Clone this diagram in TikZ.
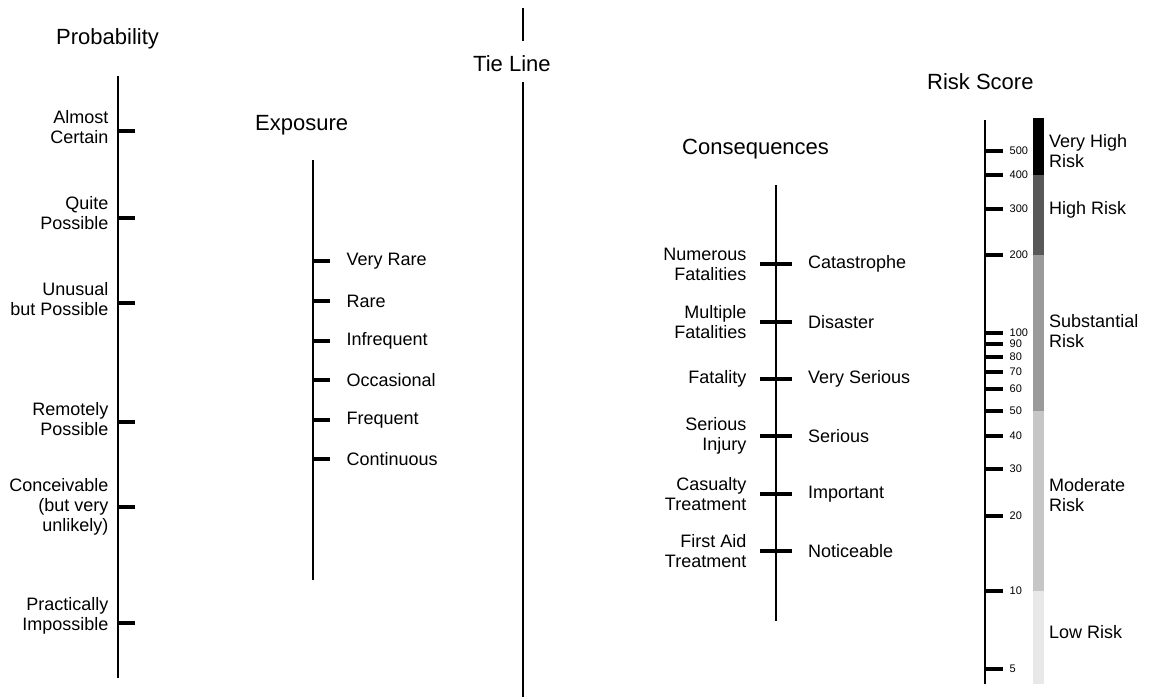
\documentclass[tikz,border=0pt]{standalone}
\usepackage{fontspec}
\setmainfont{Liberation Sans}
\definecolor{riskhigh}{HTML}{585858}
\definecolor{risksub}{HTML}{9A9A9A}
\definecolor{riskmod}{HTML}{C6C6C6}
\definecolor{risklow}{HTML}{E8E8E8}
\begin{document}
\begin{tikzpicture}[x=1pt,y=-1pt,
		axis/.style={line width=2.7pt},
		tick/.style={line width=3.3pt},
		head/.style={font=\fontsize{22}{26}\selectfont,inner sep=0pt,anchor=base west},
		lab/.style={font=\fontsize{18}{20}\selectfont,inner sep=0pt},
		num/.style={font=\fontsize{11}{12}\selectfont,inner sep=0pt,anchor=west,xshift=5pt}]
		\useasboundingbox (0,0) rectangle (1149,697);
		% probability
		\node[head] (prob) at (56,44) {Probability};
		\draw[axis] (118,76) -- (118,678);
		\draw[tick] (135,131) -- (118,131) node[lab,left=8pt,yshift=4pt,align=right] (almost) {Almost\\Certain};
		\draw[tick] (135,218) -- (118,218) node[lab,left=8pt,yshift=5pt,align=right] (quite) {Quite\\Possible};
		\draw[tick] (135,303) -- (118,303) node[lab,left=8pt,yshift=4pt,align=right] (unusual) {Unusual\\but Possible};
		\draw[tick] (135,422) -- (118,422) node[lab,left=8pt,yshift=3pt,align=right] (remotely) {Remotely\\Possible};
		\draw[tick] (135,507) -- (118,507) node[lab,left=8pt,align=right] (conceivable) {Conceivable\\(but very\\unlikely)};
		\draw[tick] (135,623) -- (118,623) node[lab,left=8pt,yshift=7pt,align=right] (practically) {Practically\\Impossible};
		% exposure
		\node[head] (expo) at (255,130) {Exposure};
		\draw[axis] (313,160) -- (313,580);
		\draw[tick] (313,261) -- (330,261) node[lab,right=15pt] (veryrare) {Very Rare};
		\draw[tick] (313,301) -- (330,301) node[lab,right=15pt] (rare) {Rare};
		\draw[tick] (313,341) -- (330,341) node[lab,right=15pt] (infrequent) {Infrequent};
		\draw[tick] (313,380) -- (330,380) node[lab,right=15pt] (occasional) {Occasional};
		\draw[tick] (313,420) -- (330,420) node[lab,right=15pt] (frequent) {Frequent};
		\draw[tick] (313,459) -- (330,459) node[lab,right=15pt] (continuous) {Continuous};
		% tie line
		\node[head] (tie) at (473,71) {Tie Line};
		\draw[axis] (523,8) -- (523,41);
		\draw[axis] (523,82) -- (523,697);
		% consequences
		\node[head] (cons) at (682,154) {Consequences};
		\draw[axis] (776,185) -- (776,621);
		\draw[tick] (792,264) -- (760,264) node[lab,left=12pt,align=right] (numerous) {Numerous\\Fatalities};
		\draw[tick] (792,322) -- (760,322) node[lab,left=12pt,align=right] (multiple) {Multiple\\Fatalities};
		\draw[tick] (792,379) -- (760,379) node[lab,left=12pt,align=right] (fatality) {Fatality};
		\draw[tick] (792,436) -- (760,436) node[lab,left=12pt,align=right] (injury) {Serious\\Injury};
		\draw[tick] (792,494) -- (760,494) node[lab,left=12pt,align=right] (casualty) {Casualty\\Treatment};
		\draw[tick] (792,551) -- (760,551) node[lab,left=12pt,align=right] (firstaid) {First Aid\\Treatment};
		\node[lab,anchor=west] (catastrophe) at (808,264) {Catastrophe};
		\node[lab,anchor=west] (disaster) at (808,322) {Disaster};
		\node[lab,anchor=west] (veryserious) at (808,379) {Very Serious};
		\node[lab,anchor=west] (serious) at (808,436) {Serious};
		\node[lab,anchor=west] (important) at (808,494) {Important};
		\node[lab,anchor=west] (noticeable) at (808,551) {Noticeable};
		% risk score
		\node[head] (score) at (927,89) {Risk Score};
		\fill[black] (1033,118) rectangle (1044,175);
		\fill[riskhigh] (1033,175) rectangle (1044,255);
		\fill[risksub] (1033,255) rectangle (1044,411);
		\fill[riskmod] (1033,411) rectangle (1044,591);
		\fill[risklow] (1033,591) rectangle (1044,684);
		\draw[axis] (985,120) -- (985,684);
		\draw[tick] (985,151) -- (1003,151) node[num] (r500) {500};
		\draw[tick] (985,175) -- (1003,175) node[num] (r400) {400};
		\draw[tick] (985,209) -- (1003,209) node[num] (r300) {300};
		\draw[tick] (985,255) -- (1003,255) node[num] (r200) {200};
		\draw[tick] (985,333) -- (1003,333) node[num] (r100) {100};
		\draw[tick] (985,344) -- (1003,344) node[num] (r90) {90};
		\draw[tick] (985,357) -- (1003,357) node[num] (r80) {80};
		\draw[tick] (985,372) -- (1003,372) node[num] (r70) {70};
		\draw[tick] (985,389) -- (1003,389) node[num] (r60) {60};
		\draw[tick] (985,411) -- (1003,411) node[num] (r50) {50};
		\draw[tick] (985,436) -- (1003,436) node[num] (r40) {40};
		\draw[tick] (985,469) -- (1003,469) node[num] (r30) {30};
		\draw[tick] (985,516) -- (1003,516) node[num] (r20) {20};
		\draw[tick] (985,591) -- (1003,591) node[num] (r10) {10};
		\draw[tick] (985,669) -- (1003,669) node[num] (r5) {5};
		\node[lab,anchor=west,align=left] (veryhigh) at (1049,151) {Very High\\Risk};
		\node[lab,anchor=west] (high) at (1049,210) {High Risk};
		\node[lab,anchor=west,align=left] (substantial) at (1049,331) {Substantial\\Risk};
		\node[lab,anchor=west,align=left] (moderate) at (1049,495) {Moderate\\Risk};
		\node[lab,anchor=west] (low) at (1049,632) {Low Risk};
	\end{tikzpicture}
\end{document}
